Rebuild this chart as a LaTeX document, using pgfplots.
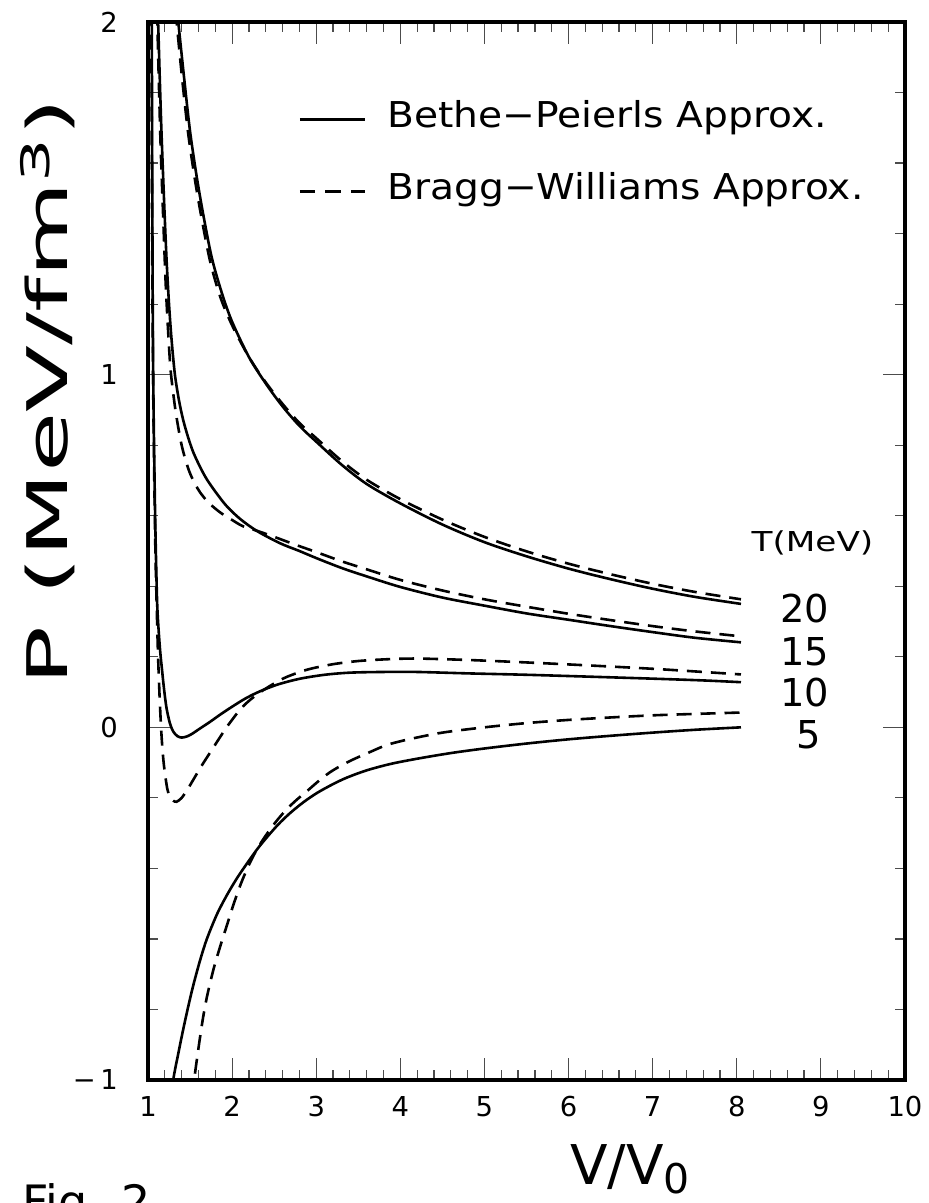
\documentclass[border=0pt]{standalone}
\usepackage{fontspec}
\setmainfont{DejaVu Sans}
\usepackage{graphicx}
\usepackage{pgfplots}
\pgfplotsset{compat=1.18}
\usepackage{pgfplotstable}

% Bethe-Peierls (solid) and Bragg-Williams (dashed), T = 20, 15, 10, 5 MeV
\pgfplotstableread{
x y
1.32 2.10
1.36 2.00
1.43 1.84
1.50 1.69
1.58 1.56
1.66 1.45
1.76 1.33
1.88 1.23
2.00 1.15
2.20 1.05
2.40 0.975
2.60 0.91
2.80 0.855
3.00 0.81
3.30 0.745
3.60 0.69
4.00 0.635
4.50 0.575
5.00 0.525
5.50 0.485
6.00 0.45
6.50 0.42
7.00 0.393
7.50 0.37
8.05 0.35
}\bpA
\pgfplotstableread{
x y
1.30 2.10
1.34 2.00
1.41 1.83
1.48 1.68
1.56 1.55
1.64 1.44
1.74 1.32
1.86 1.22
2.00 1.14
2.20 1.05
2.40 0.978
2.60 0.917
2.80 0.863
3.00 0.82
3.30 0.756
3.60 0.702
4.00 0.647
4.50 0.589
5.00 0.54
5.50 0.499
6.00 0.464
6.50 0.434
7.00 0.407
7.50 0.384
8.05 0.363
}\bwA
\pgfplotstableread{
x y
1.10 2.10
1.12 2.00
1.14 1.84
1.16 1.69
1.19 1.50
1.22 1.33
1.25 1.20
1.28 1.10
1.32 1.00
1.37 0.925
1.42 0.870
1.48 0.820
1.54 0.779
1.62 0.738
1.70 0.703
1.82 0.662
1.94 0.626
2.10 0.59
2.30 0.556
2.57 0.522
2.80 0.50
3.00 0.48
3.30 0.452
3.60 0.428
4.00 0.398
4.50 0.368
5.00 0.345
5.50 0.323
6.00 0.305
6.50 0.287
7.00 0.27
7.50 0.254
8.05 0.241
}\bpB
\pgfplotstableread{
x y
1.09 2.10
1.11 2.00
1.13 1.82
1.15 1.65
1.18 1.45
1.21 1.26
1.24 1.12
1.27 1.01
1.32 0.91
1.36 0.85
1.40 0.80
1.45 0.755
1.50 0.72
1.56 0.69
1.62 0.666
1.72 0.637
1.86 0.609
2.00 0.588
2.13 0.570
2.30 0.557
2.49 0.541
2.75 0.518
3.00 0.497
3.30 0.471
3.60 0.448
4.00 0.418
4.50 0.388
5.00 0.363
5.50 0.342
6.00 0.322
6.50 0.304
7.00 0.287
7.50 0.272
8.05 0.258
}\bwB
\pgfplotstableread{
x y
1.042 2.10
1.045 2.00
1.050 1.60
1.055 1.27
1.062 1.00
1.072 0.80
1.085 0.60
1.098 0.45
1.110 0.345
1.125 0.28
1.145 0.215
1.166 0.165
1.19 0.11
1.22 0.055
1.26 0.012
1.30 -0.012
1.35 -0.025
1.40 -0.029
1.46 -0.026
1.52 -0.019
1.62 -0.003
1.74 0.016
1.87 0.038
2.01 0.060
2.16 0.082
2.33 0.102
2.55 0.122
2.81 0.138
3.10 0.149
3.40 0.155
3.80 0.157
4.20 0.157
4.80 0.153
5.50 0.149
6.20 0.144
7.00 0.138
7.60 0.133
8.05 0.128
}\bpC
\pgfplotstableread{
x y
1.037 2.10
1.040 2.00
1.046 1.60
1.052 1.27
1.060 1.00
1.072 0.75
1.088 0.50
1.105 0.33
1.12 0.20
1.14 0.075
1.16 -0.02
1.18 -0.085
1.20 -0.128
1.23 -0.175
1.26 -0.197
1.30 -0.208
1.34 -0.211
1.40 -0.200
1.47 -0.176
1.54 -0.148
1.64 -0.108
1.74 -0.071
1.84 -0.034
1.94 0.002
2.09 0.049
2.20 0.075
2.33 0.099
2.49 0.123
2.65 0.143
2.90 0.164
3.20 0.179
3.50 0.188
3.84 0.193
4.20 0.195
4.80 0.191
5.50 0.184
6.20 0.176
7.00 0.166
7.60 0.157
8.05 0.150
}\bwC
\pgfplotstableread{
x y
1.29 -1.05
1.30 -1.00
1.36 -0.925
1.42 -0.855
1.48 -0.79
1.54 -0.73
1.62 -0.66
1.70 -0.60
1.82 -0.53
1.94 -0.475
2.06 -0.427
2.18 -0.385
2.30 -0.345
2.42 -0.31
2.55 -0.275
2.69 -0.243
2.85 -0.212
3.01 -0.186
3.20 -0.161
3.37 -0.142
3.60 -0.122
3.88 -0.104
4.20 -0.089
4.60 -0.073
5.00 -0.060
5.50 -0.046
6.00 -0.034
6.50 -0.024
7.00 -0.015
7.50 -0.007
8.05 0.000
}\bpD
\pgfplotstableread{
x y
1.545 -1.05
1.55 -1.00
1.60 -0.91
1.65 -0.83
1.70 -0.765
1.78 -0.685
1.86 -0.62
1.94 -0.56
2.02 -0.50
2.11 -0.44
2.21 -0.385
2.31 -0.34
2.42 -0.30
2.53 -0.265
2.65 -0.232
2.77 -0.205
2.89 -0.181
3.02 -0.154
3.16 -0.128
3.30 -0.108
3.44 -0.091
3.64 -0.070
3.84 -0.050
4.10 -0.034
4.50 -0.015
5.00 0.000
5.50 0.012
6.00 0.021
6.50 0.028
7.00 0.034
7.50 0.038
8.05 0.042
}\bwD

\begin{document}
\begin{tikzpicture}
\path[use as bounding box] (-74pt,-61.5pt) rectangle (390pt,540pt);
\begin{axis}[
  at={(0pt,0pt)}, anchor=south west,
  scale only axis, width=378.5pt, height=529pt,
  xmin=1, xmax=10, ymin=-1, ymax=2,
  xtick={1,2,3,4,5,6,7,8,9,10},
  xticklabels={1,2,3,4,5,6,7,8,9,10},
  ytick={-1,0,1,2},
  yticklabels={{−\,1},0,1,2},
  minor x tick num=4, minor y tick num=4,
  tick align=inside,
  major tick length=11pt, minor tick length=5pt,
  tick style={line width=0.6pt, color=black!70},
  tick label style={font=\fontsize{13.7}{16}\selectfont},
  xticklabel style={yshift=-4.5pt},
  yticklabel style={xshift=-11.5pt},
  axis line style={line width=1.6pt},
  clip mode=individual,
]
\addplot[black, line width=1.3pt, smooth] table {\bpA};
\addplot[black, line width=1.3pt, smooth, dash pattern=on 7.5pt off 4.5pt] table {\bwA};
\addplot[black, line width=1.3pt, smooth] table {\bpB};
\addplot[black, line width=1.3pt, smooth, dash pattern=on 7.5pt off 4.5pt] table {\bwB};
\addplot[black, line width=1.3pt, smooth] table {\bpC};
\addplot[black, line width=1.3pt, smooth, dash pattern=on 7.5pt off 4.5pt] table {\bwC};
\addplot[black, line width=1.3pt, smooth] table {\bpD};
\addplot[black, line width=1.3pt, smooth, dash pattern=on 7.5pt off 4.5pt] table {\bwD};

% legend
\draw[black, line width=1.3pt] (axis cs:2.807,1.723) -- (axis cs:3.580,1.723);
\node[anchor=base west, inner sep=0pt, font=\fontsize{17.8}{20}\selectfont]
  at (axis cs:3.842,1.700) {\scalebox{1.1}[1]{Bethe−Peierls Approx.}};
\draw[black, line width=1.3pt, dash pattern=on 7.75pt off 5pt] (axis cs:2.807,1.519) -- (axis cs:3.580,1.519);
\node[anchor=base west, inner sep=0pt, font=\fontsize{17.8}{20}\selectfont]
  at (axis cs:3.842,1.496) {\scalebox{1.1}[1]{Bragg−Williams Approx.}};

% curve labels
\node[font=\fontsize{13.7}{16}\selectfont] at (axis cs:8.90,0.524) {\scalebox{1.25}[1]{T(MeV)}};
\node[font=\fontsize{19.2}{22}\selectfont] at (axis cs:8.81,0.337) {20};
\node[font=\fontsize{19.2}{22}\selectfont] at (axis cs:8.81,0.215) {15};
\node[font=\fontsize{19.2}{22}\selectfont] at (axis cs:8.81,0.099) {10};
\node[font=\fontsize{19.2}{22}\selectfont] at (axis cs:8.85,-0.02) {5};
\end{axis}
\draw[line width=1.6pt] (0pt,0pt) rectangle (378.5pt,529pt);
% axis titles
\node[rotate=90, font=\fontsize{28}{30}\selectfont] at (-50pt,344pt)
  {\scalebox{1.75}[1]{P (MeV/fm\textsuperscript{3})}};
\node[anchor=base west, inner sep=0pt, font=\fontsize{27.4}{30}\selectfont] at (211pt,-52pt)
  {V/V\raisebox{-4.5pt}{\fontsize{20.5}{22}\selectfont 0}};
\node[anchor=base west, inner sep=0pt, font=\fontsize{23}{26}\selectfont] at (-63pt,-69pt) {Fig. 2};
\end{tikzpicture}
\end{document}
